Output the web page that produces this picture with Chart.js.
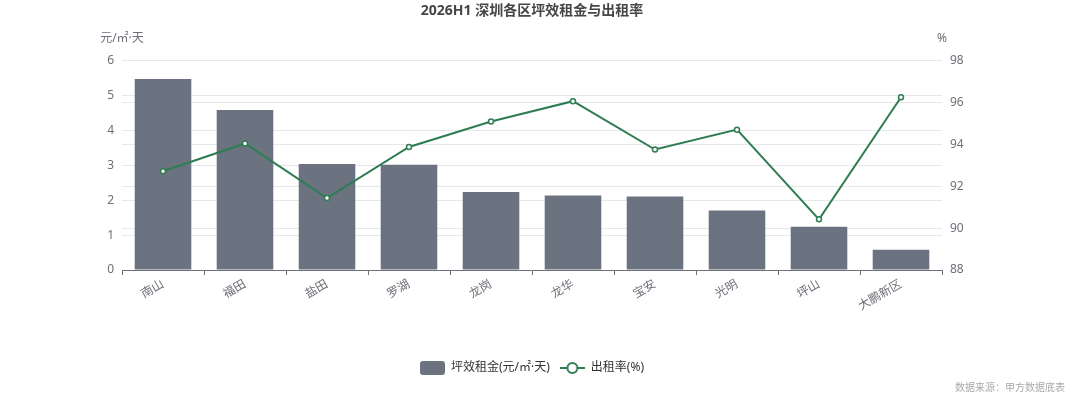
<!DOCTYPE html>
<html>
<head>
<meta charset="utf-8">
<script src="https://cdn.jsdelivr.net/npm/chart.js@4"></script>
<style>
  body { margin: 0; background: #fff; }
  #wrap { width: 1072px; height: 401px; }
</style>
</head>
<body>
<div id="wrap"><canvas id="myChart"></canvas></div>
<script>
const districts = ["南山", "福田", "盐田", "罗湖", "龙岗", "龙华", "宝安", "光明", "坪山", "大鹏新区"];
const rentValues = [5.48, 4.59, 3.04, 3.02, 2.24, 2.14, 2.11, 1.71, 1.24, 0.58];
const occupancyValues = [92.72, 94.05, 91.44, 93.88, 95.10, 96.07, 93.76, 94.71, 90.42, 96.26];
const rentTicks = [0, 1, 2, 3, 4, 5, 6];
const occupancyTicks = [88, 90, 92, 94, 96, 98];

const FONT = '"Noto Sans", "Noto Sans CJK SC", sans-serif';
const barColor = '#6b7280';
const lineColor = '#2e7d52';

// little legend symbols, echarts style
function barSymbol() {
    const c = document.createElement('canvas');
    c.width = 25; c.height = 14;
    const g = c.getContext('2d');
    g.fillStyle = barColor;
    g.beginPath();
    g.roundRect(0, 0, 25, 14, 3);
    g.fill();
    return c;
}
function lineSymbol() {
    const c = document.createElement('canvas');
    c.width = 25; c.height = 14;
    const g = c.getContext('2d');
    g.strokeStyle = lineColor;
    g.lineWidth = 2;
    g.beginPath();
    g.moveTo(0, 7); g.lineTo(25, 7);
    g.stroke();
    g.fillStyle = '#fff';
    g.beginPath();
    g.arc(12.5, 7, 5, 0, Math.PI * 2);
    g.fill();
    g.stroke();
    return c;
}

// axis units on top + source note bottom right
const extraText = {
    id: 'extraText',
    afterDraw(chart) {
        const { ctx, chartArea, width, height } = chart;
        ctx.save();
        ctx.font = '12px ' + FONT;
        ctx.fillStyle = '#6e7079';
        ctx.textAlign = 'center';
        ctx.textBaseline = 'middle';
        ctx.fillText('元/㎡·天', chartArea.left, chartArea.top - 22);
        ctx.fillText('%', chartArea.right, chartArea.top - 22);
        ctx.font = '10px ' + FONT;
        ctx.fillStyle = '#aaaaaa';
        ctx.textAlign = 'right';
        ctx.fillText('数据来源：甲方数据底表', width - 7, height - 13);
        ctx.restore();
    }
};

function createChart() {
    const symbols = [barSymbol(), lineSymbol()];
    const config = {
        data: {
            labels: districts,
            datasets: [{
                type: 'line',
                label: '出租率(%)',
                data: occupancyValues,
                yAxisID: 'y1',
                borderColor: lineColor,
                borderWidth: 2,
                pointRadius: 2.5,
                pointBorderWidth: 1.5,
                pointBackgroundColor: '#fff',
                pointBorderColor: lineColor,
                tension: 0,
                order: 0
            }, {
                type: 'bar',
                label: '坪效租金(元/㎡·天)',
                data: rentValues,
                yAxisID: 'y',
                backgroundColor: barColor,
                categoryPercentage: 1,
                barPercentage: 0.69,
                order: 1
            }]
        },
        options: {
            responsive: true,
            maintainAspectRatio: false,
            animation: false,
            layout: { padding: { left: 82, right: 90, top: 0, bottom: 17 } },
            scales: {
                x: {
                    offset: true,
                    grid: { offset: true, drawOnChartArea: false, drawTicks: true, tickLength: 5, color: '#6e7079' },
                    border: { display: true, color: '#6e7079' },
                    ticks: { color: '#6e7079', font: { size: 12, family: FONT }, minRotation: 30, maxRotation: 30, padding: 2 },
                    afterFit(scale) { scale.height = 82; }
                },
                y: {
                    position: 'left',
                    min: 0, max: 6,
                    afterBuildTicks(scale) { scale.ticks = rentTicks.map(v => ({ value: v })); },
                    grid: { color: '#e5e7eb', drawTicks: false },
                    border: { display: false },
                    ticks: { color: '#6e7079', font: { size: 12, family: FONT }, padding: 8 },
                    afterFit(scale) { scale.width = 40; }
                },
                y1: {
                    position: 'right',
                    min: 88, max: 98,
                    afterBuildTicks(scale) { scale.ticks = occupancyTicks.map(v => ({ value: v })); },
                    grid: { color: '#e5e7eb', drawTicks: false },
                    border: { display: false },
                    ticks: { color: '#6e7079', font: { size: 12, family: FONT }, padding: 8 },
                    afterFit(scale) { scale.width = 40; }
                }
            },
            plugins: {
                title: {
                    display: true,
                    text: '2026H1 深圳各区坪效租金与出租率',
                    color: '#464646',
                    font: { size: 14, weight: 'bold', family: FONT },
                    padding: { top: 3, bottom: 41 }
                },
                legend: {
                    position: 'bottom',
                    labels: {
                        usePointStyle: true,
                        pointStyleWidth: 25,
                        boxHeight: 14,
                        color: '#333',
                        font: { size: 12, family: FONT },
                        padding: 10,
                        generateLabels(chart) {
                            return [1, 0].map((i, k) => ({
                                text: chart.data.datasets[i].label,
                                datasetIndex: i,
                                pointStyle: symbols[k],
                                fillStyle: 'transparent',
                                strokeStyle: 'transparent',
                                lineWidth: 0,
                                hidden: !chart.isDatasetVisible(i),
                                fontColor: '#333'
                            }));
                        }
                    }
                },
                tooltip: { enabled: false }
            }
        },
        plugins: [extraText]
    };
    new Chart('myChart', config);
}
createChart();
</script>
</body>
</html>
